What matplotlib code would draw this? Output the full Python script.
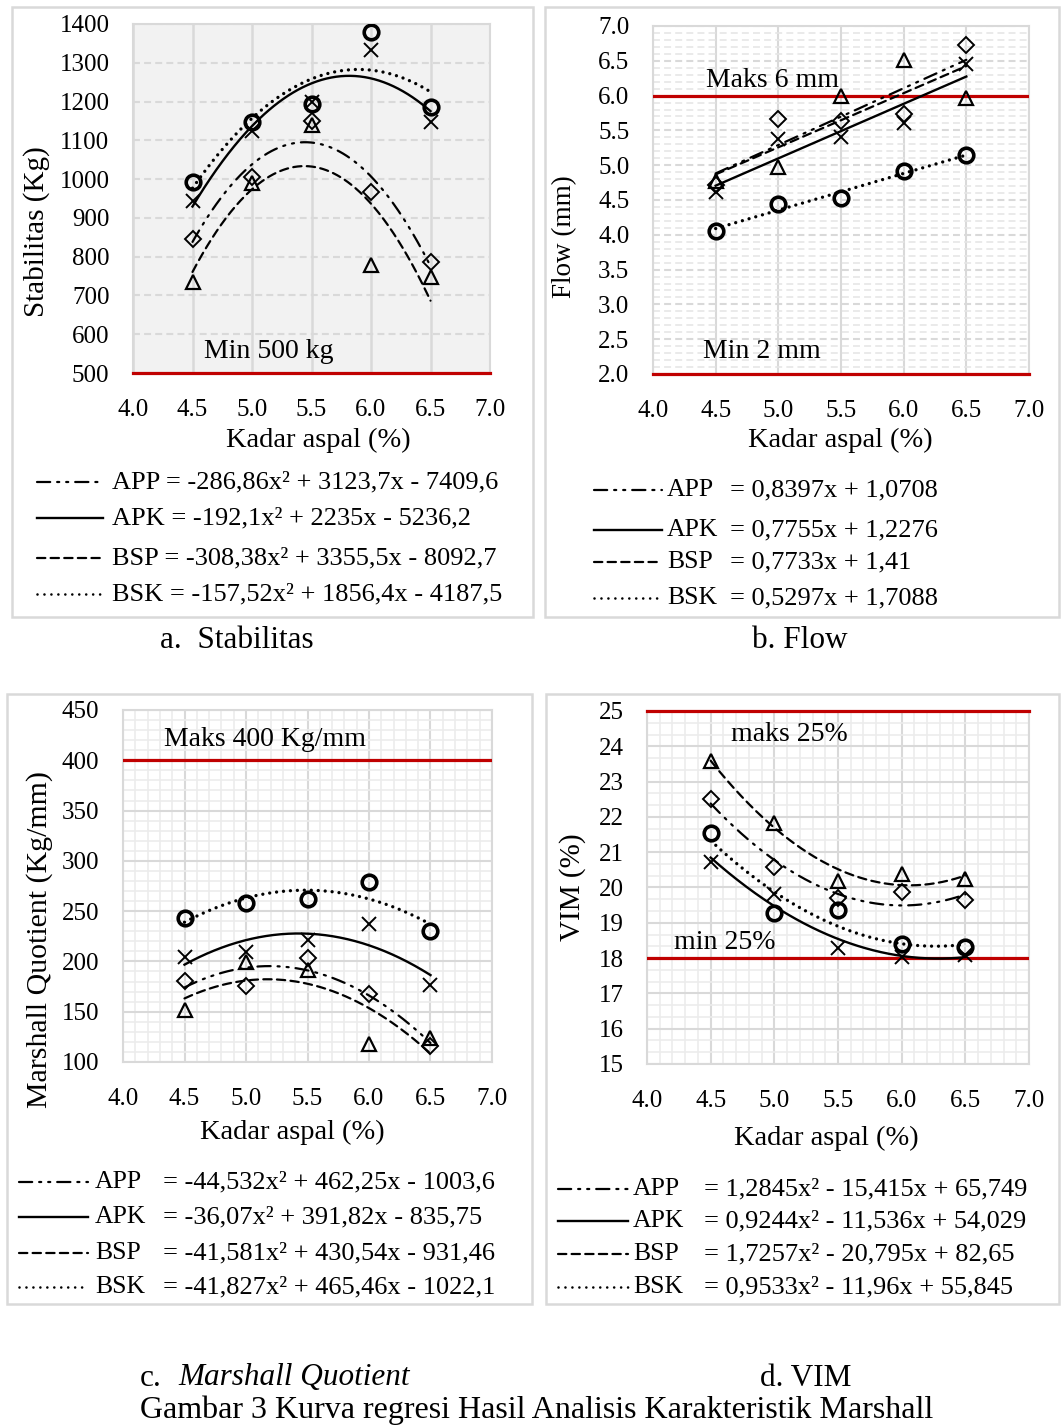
import numpy as np
import matplotlib.pyplot as plt
from matplotlib.lines import Line2D
from matplotlib.patches import Rectangle
from matplotlib.ticker import MultipleLocator, FormatStrFormatter

plt.rcParams['font.family'] = ['Liberation Serif', 'DejaVu Serif']
plt.rcParams['lines.scale_dashes'] = False

W, H = 1061, 1427

# Kadar aspal (%)
kadar = [4.5, 5.0, 5.5, 6.0, 6.5]
series = ['APP', 'APK', 'BSP', 'BSK']

# a. Stabilitas (Kg)
stab_app = [845, 1006, 1149, 966, 787]
stab_apk = [943, 1125, 1200, 1334, 1146]
stab_bsp = [735, 989, 1140, 778, 748]
stab_bsk = [993, 1146, 1193, 1379, 1187]
stab_eq = ['APP = -286,86x² + 3123,7x - 7409,6', 'APK = -192,1x² + 2235x - 5236,2',
           'BSP = -308,38x² + 3355,5x - 8092,7', 'BSK = -157,52x² + 1856,4x - 4187,5']

# b. Flow (mm)
flow_app = [4.72, 5.67, 5.64, 5.73, 6.73]
flow_apk = [4.61, 5.37, 5.41, 5.61, 6.45]
flow_bsp = [4.78, 4.98, 6.00, 6.51, 5.96]
flow_bsk = [4.06, 4.44, 4.53, 4.92, 5.14]
flow_eq = ['= 0,8397x + 1,0708', '= 0,7755x + 1,2276', '= 0,7733x + 1,41', '= 0,5297x + 1,7088']

# c. Marshall Quotient (Kg/mm)
mq_app = [181, 176, 203, 168, 116]
mq_apk = [204, 209, 221, 237, 177]
mq_bsp = [152, 199, 191, 118, 124]
mq_bsk = [243, 258, 262, 279, 230]
mq_eq = ['= -44,532x² + 462,25x - 1003,6', '= -36,07x² + 391,82x - 835,75',
         '= -41,581x² + 430,54x - 931,46', '= -41,827x² + 465,46x - 1022,1']

# d. VIM (%)
vim_app = [22.50, 20.58, 19.69, 19.86, 19.64]
vim_apk = [20.71, 19.83, 18.29, 18.04, 18.08]
vim_bsp = [23.58, 21.83, 20.18, 20.38, 20.24]
vim_bsk = [21.55, 19.28, 19.36, 18.39, 18.32]
vim_eq = ['= 1,2845x² - 15,415x + 65,749', '= 0,9244x² - 11,536x + 54,029',
          '= 1,7257x² - 20,795x + 82,65', '= 0,9533x² - 11,96x + 55,845']

# line / marker style per series
line_style = {'APP': (0, (9.5, 5, 1.5, 5, 1.5, 5)), 'APK': '-',
              'BSP': (0, (6, 3.8)), 'BSK': (0, (0.01, 5))}
line_width = {'APP': 1.6, 'APK': 1.7, 'BSP': 1.6, 'BSK': 2.4}
marker = {'APP': 'D', 'APK': 'x', 'BSP': '^', 'BSK': 'o'}
msize = {'APP': 8, 'APK': 10, 'BSP': 10, 'BSK': 10.5}
mew = {'APP': 1.4, 'APK': 1.4, 'BSP': 1.6, 'BSK': 2.6}

RED = '#c00000'
GRID = '#d9d9d9'
MINOR = '#ececec'

fig = plt.figure(figsize=(W / 100, H / 100), dpi=100)


def fx(px):
    return px / W


def fy(py):
    return 1 - py / H


def make_axes(left, top, right, bottom):
    return fig.add_axes([fx(left), fy(bottom), fx(right - left), (bottom - top) / H])


def draw_series(ax, ys, deg):
    # Excel-style trendline: least squares fit of each series
    xx = np.linspace(4.5, 6.5, 200)
    for name, y in zip(series, ys):
        c = np.polyfit(kadar, y, deg)
        ax.plot(xx, np.polyval(c, xx), color='black', ls=line_style[name],
                lw=line_width[name], dash_capstyle='round', zorder=3)
    for name, y in zip(series, ys):
        ax.plot(kadar, y, ls='none', marker=marker[name], ms=msize[name],
                mfc='none', mec='black', mew=mew[name], zorder=4)


def style_axes(ax, ylim, ymaj, yfmt, xlab_xy, ylab, ylab_xy, ylab_size=20.5):
    ax.set_xlim(4, 7)
    ax.set_ylim(*ylim)
    ax.xaxis.set_major_locator(MultipleLocator(0.5))
    ax.xaxis.set_major_formatter(FormatStrFormatter('%.1f'))
    ax.yaxis.set_major_locator(MultipleLocator(ymaj))
    ax.yaxis.set_major_formatter(FormatStrFormatter(yfmt))
    ax.tick_params(axis='both', which='both', length=0, labelsize=18)
    ax.tick_params(axis='x', pad=18.5)
    ax.tick_params(axis='y', pad=17)
    for s in ax.spines.values():
        s.set_color(GRID)
        s.set_linewidth(1.5)
    ax.set_axisbelow(True)
    ax.set_xlabel('Kadar aspal (%)', fontsize=20.5, va='center')
    ax.xaxis.set_label_coords(*xlab_xy)
    ax.set_ylabel(ylab, fontsize=ylab_size, va='center')
    ax.yaxis.set_label_coords(*ylab_xy)


def limit_line(ax, y, clip=True):
    ax.axhline(y, color=RED, lw=2.3, zorder=2.8, clip_on=clip)


def legend_block(x0, x1, xlab, xeq, rows, eqs):
    for name, r, eq in zip(series, rows, eqs):
        fig.add_artist(Line2D([fx(x0), fx(x1)], [fy(r), fy(r)], color='black',
                              ls=line_style[name], lw=min(line_width[name], 1.9),
                              dash_capstyle='round'))
        if xlab is not None:
            fig.text(fx(xlab), fy(r), name, fontsize=18.5, va='center', ha='left')
        fig.text(fx(xeq), fy(r), eq, fontsize=19, va='center', ha='left')


def frame(left, top, right, bottom):
    fig.add_artist(Rectangle((fx(left), fy(bottom)), fx(right - left), (bottom - top) / H,
                             fill=False, edgecolor=GRID, lw=1.8))


# panel frames
frame(12, 7, 533, 617)
frame(545, 7, 1059, 617)
frame(7, 694, 532, 1304)
frame(546, 694, 1059, 1304)

# a. Stabilitas
ax = make_axes(133, 24, 490, 373)
ax.set_facecolor('#f2f2f2')
ax.yaxis.grid(True, color=GRID, ls=(0, (5, 3)), lw=1.5)
ax.xaxis.grid(True, color=GRID, ls='-', lw=1.8)
style_axes(ax, (500, 1400), 100, '%d', (0.52, -0.192), 'Stabilitas (Kg)', (-0.269, 0.404), 21)
limit_line(ax, 500, clip=False)
ax.text(4.6, 555, 'Min 500 kg', fontsize=20, va='center')
draw_series(ax, [stab_app, stab_apk, stab_bsp, stab_bsk], 2)
legend_block(37, 103, None, 112, [482, 518, 558, 594], stab_eq)
fig.text(fx(160), fy(641), 'a.  Stabilitas', fontsize=22.5, va='center')

# b. Flow
ax = make_axes(653, 26, 1029, 374)
ax.yaxis.set_minor_locator(MultipleLocator(0.1))
ax.yaxis.grid(True, which='minor', color='#e6e6e6', ls=(0, (5, 3)), lw=1.2)
ax.yaxis.grid(True, which='major', color=GRID, ls=(0, (5, 3)), lw=1.5)
ax.xaxis.grid(True, color=GRID, ls='-', lw=1.5)
style_axes(ax, (2, 7), 0.5, '%.1f', (0.497, -0.19), 'Flow (mm)', (-0.234, 0.394), 19.5)
limit_line(ax, 6)
limit_line(ax, 2, clip=False)
ax.text(4.42, 6.21, 'Maks 6 mm', fontsize=20, va='center')
ax.text(4.4, 2.33, 'Min 2 mm', fontsize=20, va='center')
draw_series(ax, [flow_app, flow_apk, flow_bsp, flow_bsk], 1)
legend_block(594, 662, 667, 730, [490, 530, 562, 598], flow_eq)
fig.text(fx(752), fy(641), 'b. Flow', fontsize=22.5, va='center')

# c. Marshall Quotient
ax = make_axes(123, 710, 492, 1062)
ax.xaxis.set_minor_locator(MultipleLocator(0.1))
ax.yaxis.set_minor_locator(MultipleLocator(10))
ax.grid(True, which='minor', color=MINOR, lw=1.2)
ax.grid(True, which='major', color=GRID, lw=1.5)
style_axes(ax, (100, 450), 50, '%d', (0.46, -0.20), 'Marshall Quotient (Kg/mm)', (-0.225, 0.347), 21.5)
limit_line(ax, 400)
ax.text(4.33, 421, 'Maks 400 Kg/mm', fontsize=20, va='center')
draw_series(ax, [mq_app, mq_apk, mq_bsp, mq_bsk], 2)
legend_block(19, 88, 95, 163, [1182, 1217, 1253, 1287], mq_eq)
fig.text(fx(140), fy(1378), 'c.', fontsize=22.5, va='center')
fig.text(fx(178), fy(1378), 'Marshall Quotient', fontsize=22.5, va='center', style='italic')

# d. VIM
ax = make_axes(647, 711, 1029, 1064)
ax.xaxis.set_minor_locator(MultipleLocator(0.1))
ax.yaxis.set_minor_locator(MultipleLocator(1 / 3))
ax.grid(True, which='minor', color=MINOR, lw=1.2)
ax.grid(True, which='major', color=GRID, lw=1.5)
style_axes(ax, (15, 25), 1, '%d', (0.469, -0.21), 'VIM (%)', (-0.196, 0.50), 21)
limit_line(ax, 25, clip=False)
limit_line(ax, 18)
ax.text(4.66, 24.33, 'maks 25%', fontsize=20, va='center')
ax.text(4.21, 18.43, 'min 25%', fontsize=20, va='center')
draw_series(ax, [vim_app, vim_apk, vim_bsp, vim_bsk], 2)
legend_block(558, 628, 633, 704, [1189, 1221, 1254, 1287], vim_eq)
fig.text(fx(760), fy(1378), 'd. VIM', fontsize=22.5, va='center')

fig.text(fx(140), fy(1410), 'Gambar 3 Kurva regresi Hasil Analisis Karakteristik Marshall',
         fontsize=23, va='center')

fig.savefig('out.png', dpi=100)
